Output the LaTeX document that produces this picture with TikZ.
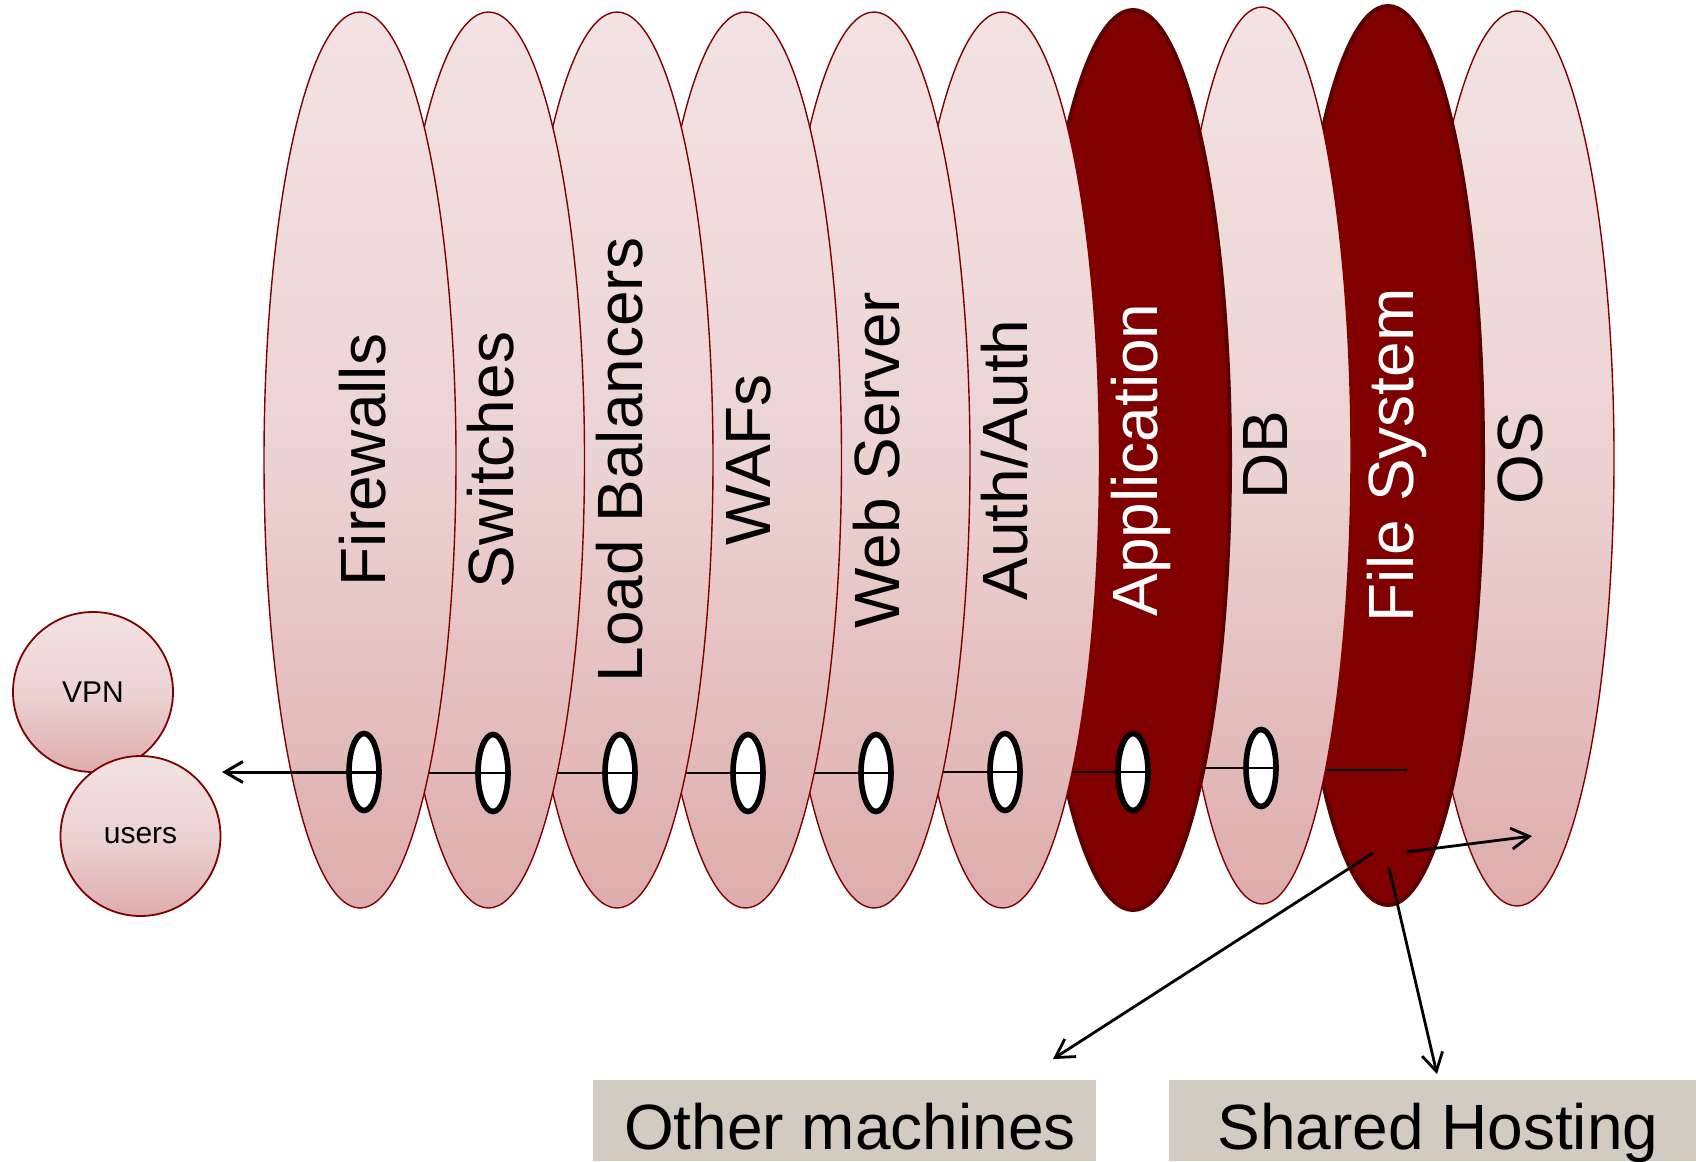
\documentclass[tikz,border=0pt]{standalone}
\usepackage{fontspec}
\setmainfont{Liberation Sans}
\usetikzlibrary{shapes.geometric,arrows.meta}

\definecolor{pktop}{RGB}{243,226,226}
\definecolor{pkmid}{RGB}{236,211,211}
\definecolor{pkbot}{RGB}{222,172,172}
\definecolor{rim}{RGB}{128,0,0}
\definecolor{maroon}{RGB}{128,0,0}
\definecolor{maroonrim}{RGB}{92,0,0}
\definecolor{boxfill}{RGB}{210,203,193}

% light pink fade, lighter at the top
\pgfdeclareverticalshading{pinkfade}{100bp}{color(0bp)=(pkbot); color(25bp)=(pkbot); color(50bp)=(pkmid); color(75bp)=(pktop); color(100bp)=(pktop)}

\tikzset{
  layer/.style={ellipse, inner sep=0pt, line width=0.7pt, draw=rim, shade, shading=pinkfade},
  darklayer/.style={ellipse, inner sep=0pt, line width=2pt, draw=maroonrim, fill=maroon},
  hole/.style={ellipse, inner sep=0pt, minimum width=15pt, minimum height=38.5pt, line width=2.8pt, draw=black, fill=white},
  seg/.style={line width=1.1pt, draw=black},
  tag/.style={rotate=90, anchor=base, inner sep=0pt, font=\fontsize{32}{36}\selectfont},
  bubble/.style={circle, minimum size=80pt, inner sep=0pt, line width=0.9pt, draw=rim, shade, shading=pinkfade, font=\fontsize{15}{17}\selectfont},
  outbox/.style={rectangle, inner sep=0pt, fill=boxfill, minimum height=40.5pt, text height=28.5pt, text depth=0pt, font=\fontsize{32}{36}\selectfont},
  flow/.style={line width=1.4pt, draw=black, -{Straight Barb[length=9pt,width=10.5pt]}}
}

\begin{document}
\begin{tikzpicture}[x=0.5pt,y=-0.5pt]
\useasboundingbox (0,0) rectangle (1696,1161);

% pass-through points of the request line
\coordinate (p1) at (364,772);
\coordinate (p2) at (493,773);
\coordinate (p3) at (620,773);
\coordinate (p4) at (748,773);
\coordinate (p5) at (876,773);
\coordinate (p6) at (1005,772);
\coordinate (p7) at (1133,772);
\coordinate (p8) at (1261,768);
\coordinate (fsEnd) at (1407,770);
\coordinate (tipL) at (222,772);

% layers, drawn from the back (right) to the front (left)
\node[layer, minimum width=97pt, minimum height=447.5pt] (os) at (1517,458.5) {};
\node[tag] (osT) at (1542,458.5) {OS};

\node[darklayer, minimum width=95pt, minimum height=449.5pt] (fs) at (1388,455.5) {};
\draw[seg] (fsEnd) -- (p8 |- fsEnd);
\node[tag, text=white] (fsT) at (1413,455.5) {File System};

\node[layer, minimum width=89pt, minimum height=448.5pt] (db) at (1262,455.5) {};
\node[hole] (h8) at (p8) {};
\draw[seg] (p8) ++(14,0) -- (p7 |- p8);
\node[tag] (dbT) at (1287,455.5) {DB};

\node[darklayer, minimum width=97pt, minimum height=450pt] (app) at (1133,460) {};
\node[hole] (h7) at (p7) {};
\draw[seg] (p7) ++(14,0) -- (p6 |- p7);
\node[tag, text=white] (appT) at (1157,460) {Application};

\node[layer, minimum width=97pt, minimum height=448pt] (auth) at (1002.5,460) {};
\node[hole] (h6) at (p6) {};
\draw[seg] (p6) ++(14,0) -- (p5 |- p6);
\node[tag] (authT) at (1027,460) {Auth/Auth};

\node[layer, minimum width=96pt, minimum height=448pt] (web) at (874,460) {};
\node[hole] (h5) at (p5) {};
\draw[seg] (p5) ++(14,0) -- (p4 |- p5);
\node[tag] (webT) at (899,460) {Web Server};

\node[layer, minimum width=96pt, minimum height=448pt] (waf) at (745.5,460) {};
\node[hole] (h4) at (p4) {};
\draw[seg] (p4) ++(14,0) -- (p3 |- p4);
\node[tag] (wafT) at (770,460) {WAFs};

\node[layer, minimum width=96pt, minimum height=448pt] (lb) at (617,460) {};
\node[hole] (h3) at (p3) {};
\draw[seg] (p3) ++(14,0) -- (p2 |- p3);
\node[tag] (lbT) at (642,460) {Load Balancers};

\node[layer, minimum width=96pt, minimum height=448pt] (sw) at (488.5,460) {};
\node[hole] (h2) at (p2) {};
\draw[seg] (p2) ++(14,0) -- (p1 |- p2);
\node[tag] (swT) at (513,460) {Switches};

\node[layer, minimum width=96pt, minimum height=448pt] (fw) at (360,460) {};
\node[hole] (h1) at (p1) {};
\draw[flow, line width=1.5pt] (p1) ++(14,0) -- (tipL);
\node[tag] (fwT) at (385,460) {Firewalls};

% entry points
\node[bubble] (vpn) at (93,692) {VPN};
\node[bubble] (users) at (140.5,836) {users};

% destinations (text nudged slightly right of the box centre)
\node[outbox, minimum width=251.5pt] (other) at (844.5,1120.5) {\kern5.4pt Other machines};
\node[outbox, minimum width=263.5pt] (shared) at (1432.5,1120.5) {\kern5.4pt Shared Hosting};

% file system exits
\coordinate (fsR) at (1406,852);
\coordinate (osIn) at (1532,836);
\coordinate (fsL) at (1373,853);
\coordinate (otherIn) at (1053,1059);
\coordinate (fsD) at (1389,868);
\coordinate (sharedIn) at (1437,1074);
\draw[flow] (fsR) -- (osIn);
\draw[flow] (fsL) -- (otherIn);
\draw[flow] (fsD) -- (sharedIn);
\end{tikzpicture}
\end{document}
